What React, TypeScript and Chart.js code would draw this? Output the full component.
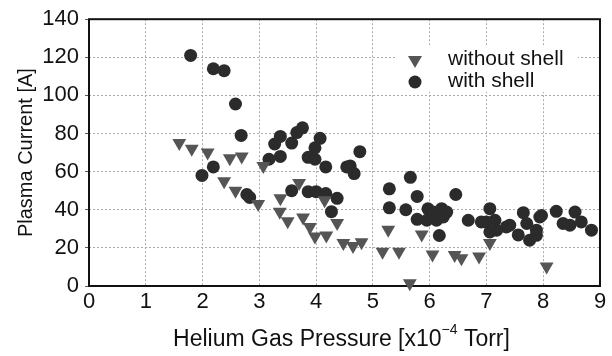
import { useEffect, useRef } from 'react';
import { Chart, registerables } from 'chart.js';

Chart.register(...registerables);

// Helium gas pressure [x10^-4 Torr] and plasma current [A]
const withoutShellX = [1.59, 1.81, 2.09, 2.48, 2.69, 2.38, 2.58, 2.98, 3.07, 3.70, 3.37, 3.36, 3.50, 3.77, 3.89, 3.98, 4.18, 4.15, 4.37, 4.48, 4.65, 4.80, 5.27, 5.17, 5.46, 5.65, 5.86, 6.05, 6.44, 6.56, 6.87, 7.06, 8.06];
const withoutShellY = [75, 72, 70, 67, 68, 55, 50, 43, 63, 54, 46, 39, 34, 36, 31, 26, 26.5, 45, 33, 22.5, 21, 23, 29.5, 18, 18, 1.5, 27, 16.5, 16.3, 14.6, 15.5, 22.5, 10.2];

const withShellX = [1.79, 2.19, 2.38, 2.58, 2.68, 2.19, 1.99, 2.78, 2.83, 3.76, 3.66, 3.37, 3.27, 3.57, 4.07, 3.98, 3.86, 3.98, 4.17, 3.37, 3.17, 4.54, 3.57, 3.86, 4.00, 4.17, 4.37, 4.27, 4.60, 4.67, 4.77, 5.29, 5.29, 5.66, 5.78, 5.58, 5.78, 5.97, 6.06, 6.21, 6.30, 5.95, 6.12, 6.24, 6.17, 6.46, 6.68, 6.91, 7.06, 7.00, 7.15, 7.35, 7.06, 7.18, 7.56, 7.65, 7.71, 7.76, 7.94, 7.88, 7.88, 7.97, 8.23, 8.35, 8.56, 8.47, 8.67, 8.85, 7.41];
const withShellY = [121, 114, 113, 95.5, 79, 62.5, 58, 48, 46.5, 83, 80.5, 78.5, 74.5, 75, 77.5, 72.5, 67.5, 66.5, 62.5, 68, 66.5, 62.5, 50, 49.5, 49.5, 48.5, 46, 39, 63, 59, 70.5, 51, 41, 57, 47, 40, 35, 40.5, 38.8, 40.6, 38.8, 34.5, 34.5, 36.2, 26.5, 48, 34.5, 33.6, 40.6, 33.6, 34.5, 31, 28.4, 29.3, 26.8, 38.5, 32.8, 24, 36.2, 29.3, 26.6, 37, 39.2, 32.8, 38.8, 31.9, 33.6, 29.3, 31.9];

const seriesNames = ['without shell', 'with shell'];
const xAxisTitleMain = 'Helium Gas Pressure [x10';
const xAxisTitleSup = '\u22124';
const xAxisTitleEnd = ' Torr]';
const yAxisTitle = 'Plasma Current [A]';

const X_MIN = 0, X_MAX = 9, X_STEP = 1;
const Y_MIN = 0, Y_MAX = 140, Y_STEP = 20;

const TRI_COLOR = '#555555';
const DOT_COLOR = '#2b2b2b';
const FONT = '"Liberation Sans", Arial, sans-serif';

const framePlugin = {
  id: 'frameAndLegend',
  beforeDatasetsDraw(chart: any) {
    const { ctx, chartArea } = chart;
    const { left, top, right, bottom } = chartArea;
    ctx.save();
    ctx.strokeStyle = '#111';
    ctx.lineWidth = 2;
    ctx.strokeRect(left, top, right - left, bottom - top);

    // legend box inside plot
    ctx.fillStyle = '#ffffff';
    ctx.fillRect(396, 45, 182, 47);
    // triangle marker
    const tx = 415, ty = 61;
    ctx.fillStyle = TRI_COLOR;
    ctx.beginPath();
    ctx.moveTo(tx - 7, ty - 5);
    ctx.lineTo(tx + 7, ty - 5);
    ctx.lineTo(tx, ty + 7);
    ctx.closePath();
    ctx.fill();
    // circle marker
    ctx.fillStyle = DOT_COLOR;
    ctx.beginPath();
    ctx.arc(415, 82, 6.5, 0, Math.PI * 2);
    ctx.fill();
    ctx.fillStyle = '#111';
    ctx.font = `21px ${FONT}`;
    ctx.textBaseline = 'middle';
    ctx.textAlign = 'left';
    ctx.fillText(seriesNames[0], 448, 59);
    ctx.fillText(seriesNames[1], 448, 81);
    ctx.restore();
  },
  afterDraw(chart: any) {
    const { ctx, chartArea } = chart;
    ctx.save();
    ctx.fillStyle = '#111';
    ctx.textBaseline = 'alphabetic';
    ctx.textAlign = 'left';
    const mainFont = `23px ${FONT}`;
    const supFont = `14px ${FONT}`;
    ctx.font = mainFont;
    const w1 = ctx.measureText(xAxisTitleMain).width;
    const w3 = ctx.measureText(xAxisTitleEnd).width;
    ctx.font = supFont;
    const w2 = ctx.measureText(xAxisTitleSup).width;
    const total = w1 + w2 + w3;
    const cx = (chartArea.left + chartArea.right) / 2 - 3;
    let x = cx - total / 2;
    const base = 346;
    ctx.font = mainFont;
    ctx.fillText(xAxisTitleMain, x, base);
    x += w1;
    ctx.font = supFont;
    ctx.fillText(xAxisTitleSup, x, base - 12);
    x += w2;
    ctx.font = mainFont;
    ctx.fillText(xAxisTitleEnd, x, base);
    ctx.restore();
  },
};

export default function App() {
  const ref = useRef<HTMLCanvasElement | null>(null);

  useEffect(() => {
    document.body.style.margin = '0';
    const canvas = ref.current;
    if (!canvas) return;
    const chart = new Chart(canvas, {
      type: 'scatter',
      data: {
        datasets: [
          {
            label: seriesNames[0],
            data: withoutShellX.map((x, i) => ({ x, y: withoutShellY[i] })),
            pointStyle: 'triangle',
            rotation: 180,
            pointRadius: 8,
            pointHoverRadius: 8,
            backgroundColor: TRI_COLOR,
            borderWidth: 0,
            clip: false as any,
          },
          {
            label: seriesNames[1],
            data: withShellX.map((x, i) => ({ x, y: withShellY[i] })),
            pointStyle: 'circle',
            pointRadius: 6.5,
            pointHoverRadius: 6.5,
            backgroundColor: DOT_COLOR,
            borderWidth: 0,
            clip: false as any,
          },
        ],
      },
      options: {
        responsive: false,
        animation: false,
        devicePixelRatio: 1,
        events: [],
        layout: { padding: { left: 0, right: 12, top: 18, bottom: 0 } },
        plugins: {
          legend: { display: false },
          tooltip: { enabled: false },
        },
        scales: {
          x: {
            type: 'linear',
            min: X_MIN,
            max: X_MAX,
            afterFit: (s: any) => { s.height = 70; },
            ticks: {
              stepSize: X_STEP,
              color: '#111',
              font: { family: FONT, size: 22 },
              padding: 3,
              maxRotation: 0,
            },
            grid: { color: '#aaaaaa', lineWidth: 1, drawTicks: false },
            border: { display: false, dash: [2, 2] },
          },
          y: {
            min: Y_MIN,
            max: Y_MAX,
            afterFit: (s: any) => { s.width = 89; },
            ticks: {
              stepSize: Y_STEP,
              color: '#111',
              font: { family: FONT, size: 22 },
              padding: 6,
            },
            title: {
              display: true,
              text: yAxisTitle,
              color: '#111',
              font: { family: FONT, size: 20 },
              padding: { top: 14, bottom: 0 },
            },
            grid: { color: '#aaaaaa', lineWidth: 1, drawTicks: true, tickLength: 4, tickColor: '#555' },
            border: { display: false, dash: [2, 2] },
          },
        },
      },
      plugins: [framePlugin],
    });
    return () => chart.destroy();
  }, []);

  return (
    <div style={{ width: 612, height: 356 }}>
      <canvas ref={ref} width={612} height={356} style={{ display: 'block' }} />
    </div>
  );
}
